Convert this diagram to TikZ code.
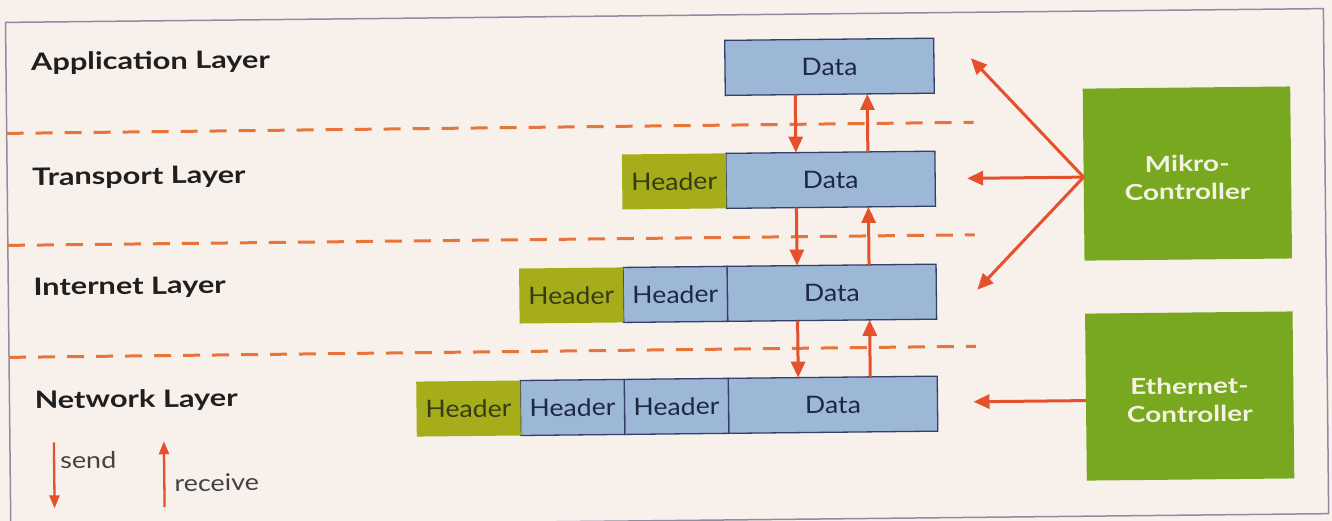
\documentclass[tikz,border=0pt]{standalone}
\usepackage{fontspec}
\setmainfont{Lato}
\newfontfamily\layerfont[FakeStretch=1.28]{Lato}
\newfontfamily\cellfont[FakeStretch=1.11]{Lato}
\newfontfamily\ctrlfont[FakeStretch=1.27]{Lato}
\newfontfamily\keyfont[FakeStretch=1.17]{Lato}
\usetikzlibrary{arrows.meta}

\definecolor{paper}{HTML}{F8F0EB}
\definecolor{framegray}{HTML}{8E8CA2}
\definecolor{pktblue}{HTML}{9DB7D7}
\definecolor{pktedge}{HTML}{34406A}
\definecolor{hdrgreen}{HTML}{A6AD1A}
\definecolor{hdrtext}{HTML}{3A3912}
\definecolor{ctrlgreen}{HTML}{78A81F}
\definecolor{ctrltext}{HTML}{F4F3E2}
\definecolor{flowred}{HTML}{E5502D}
\definecolor{sepline}{HTML}{E8743A}
\definecolor{inktext}{HTML}{1E2746}
\definecolor{labeltext}{HTML}{1F1F1F}

\begin{document}
\begin{tikzpicture}[x=1pt,y=-1pt,
  pkt/.style={draw=pktedge, line width=1.3pt, fill=pktblue, minimum height=55pt,
    inner sep=0pt, outer sep=0pt, text=inktext, font=\cellfont\fontsize{24}{24}\selectfont},
  datacell/.style={pkt, minimum width=209pt},
  hdrcell/.style={pkt, minimum width=104pt},
  newhdr/.style={hdrcell, draw=none, fill=hdrgreen, text=hdrtext},
  layerlabel/.style={anchor=west, inner sep=0pt, text=labeltext,
    font=\layerfont\bfseries\fontsize{24}{24}\selectfont},
  ctrlbox/.style={fill=ctrlgreen, minimum width=207.5pt, inner sep=0pt, outer sep=0pt},
  ctrllabel/.style={align=center, text=ctrltext, inner sep=0pt,
    font=\ctrlfont\bfseries\fontsize{22}{28}\selectfont},
  flowarrow/.style={draw=flowred, line width=3pt, -{Triangle[length=16pt,width=14pt]}},
  layersep/.style={draw=sepline, line width=3pt, dash pattern=on 17pt off 12pt},
  keyarrow/.style={draw=flowred, line width=2.3pt, -{Triangle[length=13pt,width=10pt]}},
  keylabel/.style={anchor=west, inner sep=0pt, text=labeltext!85,
    font=\keyfont\fontsize{23}{23}\selectfont},
]
% paper and page size
\fill[paper] (0,0) rectangle (1332,521);
\useasboundingbox (0,0) rectangle (1332,521);

\begin{scope}[rotate around={0.6:(666,260)}, transform shape]
% outer frame
\draw[framegray, line width=1.5pt] (8,15.5) rectangle (1326,520.6);

% layer names
\node[layerlabel] (lapp) at (33,57)  {Application Layer};
\node[layerlabel] (ltra) at (33,172) {Transport Layer};
\node[layerlabel] (lint) at (33,282) {Internet Layer};
\node[layerlabel] (lnet) at (33,395) {Network Layer};

% layer separators
\draw[layersep] (8,126.5) -- (975,125.5);
\draw[layersep] (8,238.5) -- (975,238);
\draw[layersep] (8,350.5) -- (975,349.5);

% application layer packet
\node[datacell, anchor=north west] (d1) at (727,41) {Data};

% transport layer packet
\node[datacell, anchor=north west] (d2) at (727,154) {Data};
\node[newhdr, anchor=north east] (t1) at (d2.north west) {Header};

% internet layer packet
\node[datacell, anchor=north west] (d3) at (727,267) {Data};
\node[hdrcell, anchor=north east] (i1) at (d3.north west) {Header};
\node[newhdr, anchor=north east] (i2) at (i1.north west) {Header};

% network layer packet
\node[datacell, anchor=north west] (d4) at (727,379) {Data};
\node[hdrcell, anchor=north east] (n1) at (d4.north west) {Header};
\node[hdrcell, anchor=north east] (n2) at (n1.north west) {Header};
\node[newhdr, anchor=north east] (n3) at (n2.north west) {Header};

% send (down) and receive (up) between the layers
\foreach \a/\b in {d1/d2, d2/d3, d3/d4}{
  \draw[flowarrow] ([xshift=70pt]\a.south west) -- ([xshift=70pt]\b.north west);
  \draw[flowarrow] ([xshift=142pt]\b.north west) -- ([xshift=142pt]\a.south west);
}

% controllers
\node[ctrlbox, minimum height=172pt, anchor=north west] (mikro) at (1084.5,93) {};
\node[ctrllabel] (mikrotext) at ([yshift=-4pt]mikro.center) {Mikro-\\Controller};
\node[ctrlbox, minimum height=167pt, anchor=north west] (eth) at (1084.5,318) {};
\node[ctrllabel] (ethtext) at ([yshift=-4pt]eth.center) {Ethernet-\\Controller};

\coordinate (mtop) at (973,61.4);
\coordinate (mmid) at (968,181.5);
\coordinate (mbot) at (977,293);
\coordinate (etip) at (972,405);
\draw[flowarrow] ([yshift=-2.5pt]mikro.west) -- (mtop);
\draw[flowarrow] ([yshift=-2.5pt]mikro.west) -- (mmid);
\draw[flowarrow] ([yshift=-2.5pt]mikro.west) -- (mbot);
\draw[flowarrow] ([yshift=-3.5pt]eth.west) -- (etip);

% key
\coordinate (sendtop) at (52,436);
\coordinate (sendbot) at (52,502);
\coordinate (recvtop) at (162,436);
\coordinate (recvbot) at (162,502);
\draw[keyarrow] (sendtop) -- (sendbot);
\draw[keyarrow] (recvbot) -- (recvtop);
\node[keylabel] (sendtext) at (58,454) {send};
\node[keylabel] (recvtext) at (172,478) {receive};
\end{scope}
\end{tikzpicture}
\end{document}
